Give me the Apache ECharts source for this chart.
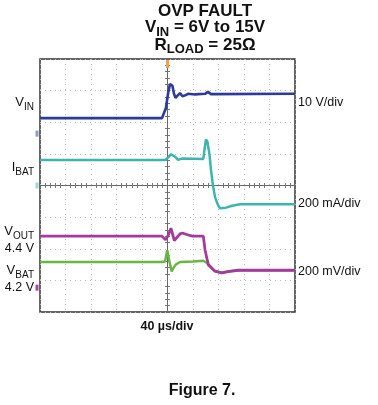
<!DOCTYPE html>
<html>
<head>
<meta charset="utf-8">
<script src="https://cdn.jsdelivr.net/npm/echarts@6/dist/echarts.min.js"></script>
<style>
  html, body { margin: 0; padding: 0; background: #fff; }
  #main { width: 378px; height: 405px; }
</style>
</head>
<body>
<div id="main"></div>
<script>
// time in us (40 us/div, trigger at 0), values in scope divisions (center = 0)
var vIn = [[-200, 2.13], [-8.6, 2.13], [-5.5, 2.17], [-2.4, 2.46], [0.8, 2.9], [3.9, 3.21], [5.5, 3.26],
  [7.8, 3.15], [10.2, 2.9], [12.5, 2.77], [15.7, 2.84], [19.6, 2.92], [23.5, 2.82], [27.5, 2.85],
  [32.2, 2.9], [43.1, 2.88], [58.8, 2.9], [63.5, 2.96], [68.2, 2.89], [200, 2.9]];
var iBat = [[-200, 0.81], [-3.9, 0.81], [0.8, 0.88], [5.5, 0.99], [8.6, 1.0], [11.8, 0.91], [16.5, 0.81],
  [22.7, 0.85], [56.2, 0.84], [58.0, 1.13], [60.4, 1.46], [62.7, 1.38], [65.9, 0.97], [68.2, 0.5],
  [71.4, -0.01], [74.5, -0.36], [78.4, -0.58], [82.4, -0.72], [85.5, -0.75], [91.8, -0.7],
  [101.2, -0.64], [113.7, -0.59], [200, -0.59]];
var vOut = [[-200, -1.6], [-8.6, -1.6], [-3.1, -1.72], [0.8, -1.59], [5.5, -1.35], [10.7, -1.74],
  [13.3, -1.68], [19.6, -1.53], [23.5, -1.5], [29.8, -1.55], [39.2, -1.6], [56.2, -1.6],
  [58.8, -2.03], [64.0, -2.5], [74.5, -2.71], [85.0, -2.76], [94.9, -2.72], [110.6, -2.68], [200, -2.68]];
var vBat = [[-200, -2.42], [-10, -2.42], [-4, -2.4], [-0.3, -2.05], [3.1, -2.4], [6.6, -2.72],
  [9, -2.62], [12.9, -2.5], [19.6, -2.42], [40, -2.4], [56.2, -2.38], [62, -2.45], [64.0, -2.52],
  [74.5, -2.71], [85.0, -2.76], [94.9, -2.72], [110.6, -2.68], [200, -2.68]];
// channel ground markers (div)
var gndIn = 1.64, gndBat = 0, gndOut = -3.23;

var font = 'Liberation Sans, Arial, sans-serif';
var myChart = echarts.init(document.getElementById('main'), null, { renderer: 'canvas' });

// text with a subscript, right/left/center aligned at (x, y)
function subText(x, y, parts, align, size, subSize, bold, lh, slh) {
  var w = bold ? 'bold' : 'normal';
  return {
    type: 'text', x: x, y: y, silent: true,
    style: {
      text: parts, align: align, verticalAlign: 'middle', fill: '#111',
      rich: {
        m: { fontSize: size, fontFamily: font, fontWeight: w, lineHeight: lh, verticalAlign: 'middle', fill: '#111' },
        s: { fontSize: subSize, fontFamily: font, fontWeight: w, lineHeight: slh, verticalAlign: 'bottom', fill: '#111' }
      }
    }
  };
}
function plain(x, y, txt, align, size, bold) {
  return {
    type: 'text', x: x, y: y, silent: true,
    style: { text: txt, align: align, verticalAlign: 'middle', fill: '#111',
      font: (bold ? 'bold ' : '') + size + 'px ' + font }
  };
}

function gndMark(v, color) {
  return {
    symbol: 'rect', silent: true, label: { show: false },
    data: [{ coord: [-200, v], symbolSize: [3, 6], symbolOffset: [-3, 0], itemStyle: { color: color } }]
  };
}

var centerAxis = {
  axisLine: { onZero: true, onZeroAxisIndex: 0, lineStyle: { color: '#666', width: 1 } },
  axisTick: { show: false, inside: false },
  minorTick: { show: true, splitNumber: 5, length: 2.5, lineStyle: { color: '#777', width: 1 } },
  axisLabel: { show: false }
};
var dotted = { show: true, lineStyle: { color: '#b5b5b5', width: 1, type: [1, 4] } };

var options = {
  animation: false,
  backgroundColor: '#fff',
  grid: { left: 40, top: 59, width: 255, height: 253, show: true, borderColor: '#333', borderWidth: 1.5,
    backgroundColor: 'transparent' },
  xAxis: [
    Object.assign({ type: 'value', min: -200, max: 200, interval: 40, position: 'bottom', splitLine: dotted }, centerAxis),
    Object.assign({ type: 'value', min: -200, max: 200, interval: 40, position: 'top', splitLine: { show: false } }, centerAxis)
  ],
  yAxis: [
    Object.assign({ type: 'value', min: -4, max: 4, interval: 1, position: 'left', splitLine: dotted }, centerAxis),
    Object.assign({ type: 'value', min: -4, max: 4, interval: 1, position: 'right', splitLine: { show: false } }, centerAxis)
  ],
  series: [
    { name: 'VBAT', type: 'line', data: vBat, showSymbol: false, lineStyle: { color: '#6cb443', width: 2.5 },
      markPoint: gndMark(gndOut, '#a64aa0') },
    { name: 'VOUT', type: 'line', data: vOut, showSymbol: false, lineStyle: { color: '#a43a9e', width: 2.8 } },
    { name: 'IBAT', type: 'line', data: iBat, showSymbol: false, lineStyle: { color: '#3db5ae', width: 2.5 },
      markPoint: gndMark(gndBat, '#9fd8d4') },
    { name: 'VIN', type: 'line', data: vIn, showSymbol: false, lineStyle: { color: '#2c3a98', width: 2.6 },
      markPoint: {
        symbol: 'rect', silent: true, label: { show: false },
        data: [
          { coord: [-200, gndIn], symbolSize: [3, 6], symbolOffset: [-3, 0], itemStyle: { color: '#8f9cc8' } },
          { coord: [0, 4], symbolSize: [3, 8], symbolOffset: [0, 5], itemStyle: { color: '#f2a444' } }
        ]
      } }
  ],
  graphic: [
    plain(205, 11, 'OVP FAULT', 'center', 17, true),
    subText(205, 27.5, '{m|V}{s|IN}{m| = 6V to 15V}', 'center', 17, 13, true, 22, 16),
    subText(205, 45, '{m|R}{s|LOAD}{m| = 25Ω}', 'center', 17, 13, true, 22, 16),
    subText(34, 102.5, '{m|V}{s|IN}', 'right', 13, 10, false, 20, 12),
    subText(34, 167.5, '{m|I}{s|BAT}', 'right', 13, 10, false, 20, 12),
    subText(34, 231, '{m|V}{s|OUT}', 'right', 13, 10, false, 20, 12),
    plain(34, 248.5, '4.4 V', 'right', 12.5, false),
    subText(34, 270, '{m|V}{s|BAT}', 'right', 13, 10, false, 20, 12),
    plain(34, 288, '4.2 V', 'right', 12.5, false),
    plain(298, 103, '10 V/div', 'left', 12.5, false),
    plain(298, 204, '200 mA/div', 'left', 12.5, false),
    plain(298, 271.5, '200 mV/div', 'left', 12.5, false),
    plain(167, 326.5, '40 µs/div', 'center', 12.5, true),
    plain(202, 391, 'Figure 7.', 'center', 16, true)
  ]
};
myChart.setOption(options);
</script>
</body>
</html>
